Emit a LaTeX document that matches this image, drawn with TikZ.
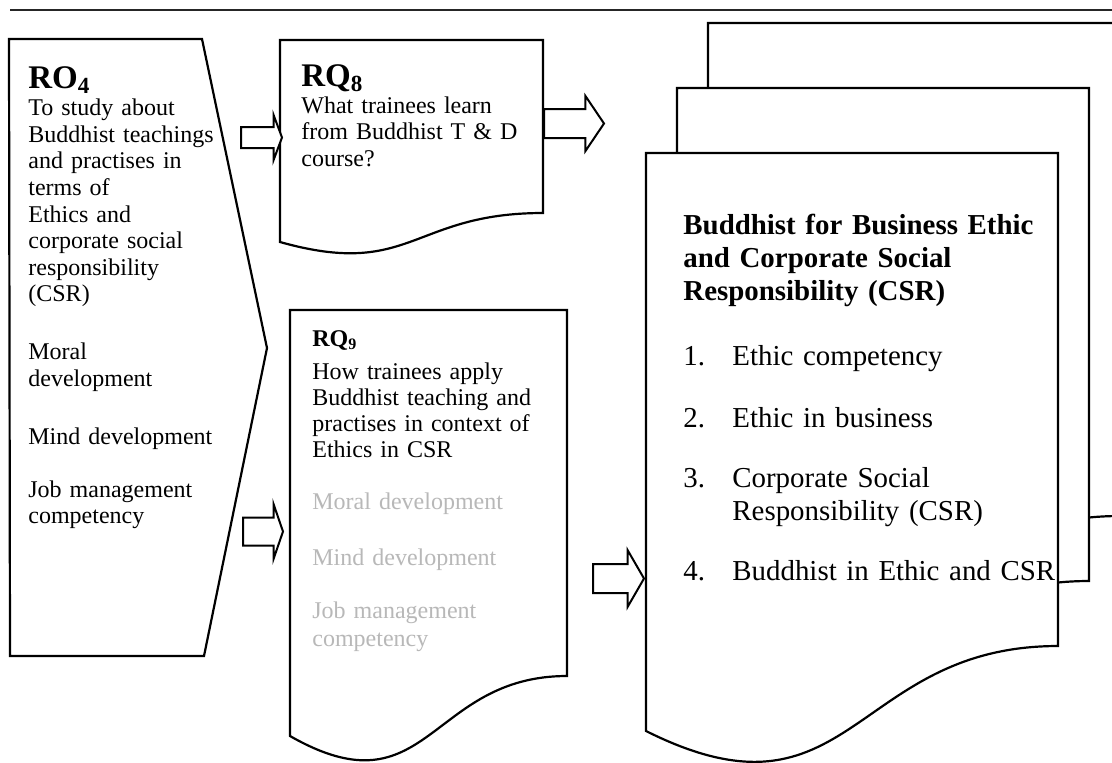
\documentclass[tikz,border=0pt]{standalone}
\usepackage{fontspec}
\setmainfont{Liberation Serif}
\usetikzlibrary{shapes.arrows}

\begin{document}
\begin{tikzpicture}[
    x=0.5pt, y=-0.5pt,
    outline/.style={draw=black, line width=1.1pt, fill=white, line join=miter},
    txt/.style={anchor=base west, inner sep=0pt, align=left, font=\fontsize{12}{13.3}\selectfont},
    bigtxt/.style={anchor=base west, inner sep=0pt, align=left, font=\fontsize{14.45}{16.5}\selectfont},
    blockarrow/.style n args={4}{single arrow, draw=black, line width=1pt, fill=white,
                 inner xsep=0pt, inner ysep=#2, anchor=tail, minimum height=#1,
                 single arrow head extend=#3, single arrow tip angle=#4}
  ]

  \useasboundingbox (0,0) rectangle (1112,762);
  \clip (0,0) rectangle (1112,762);

  \draw[line width=0.8pt, black!85] (10,10) -- (1112,10);

  % objective
  \draw[outline] (9,39) -- (202,39) -- (267,348) -- (204,656) -- (10,656) -- cycle;

  % research questions
  \draw[outline] (280,40) -- (543,40) -- (543,213) .. controls (411.5,213) and (411.5,279) .. (280,242) -- cycle;
  \draw[outline] (290,310) -- (567,310) -- (567,676) .. controls (428.5,676) and (428.5,815) .. (290,736) -- cycle;

  % stacked outcome pages
  \foreach \s in {2,1,0}
    \draw[outline, shift={(\s*31,-\s*65)}] (646,153) -- (1058,153) -- (1058,646)
      .. controls (852,646) and (852,834) .. (646,731) -- cycle;

  \node[txt, text width=115pt] (ro4) at (28,88) {{\fontsize{16.5}{18}\selectfont\bfseries RO\textsubscript{4}}\\[0.5pt]
    To study about\\ Buddhist teachings\\ and practises in\\ terms of\\ Ethics and\\ corporate social\\ responsibility\\ (CSR)\\[15.6pt]
    Moral\\ development\\[15.6pt]
    Mind development\\[13.2pt]
    Job management\\ competency};

  \node[txt, text width=120pt] (rq8) at (301,86) {{\fontsize{16.5}{18}\selectfont\bfseries RQ\textsubscript{8}}\\[0.2pt]
    What trainees learn\\ from Buddhist T \& D\\ course?};

  \node[txt, font=\fontsize{12}{13}\selectfont, text width=125pt] (rq9) at (312,346) {{\bfseries RQ\textsubscript{9}}\\[3.5pt]
    How trainees apply\\ Buddhist teaching and\\ practises in context of\\ Ethics in CSR\\[13pt]
    \color{black!28}Moral development\\[15pt]
    Mind development\\[13.5pt]
    Job management\\[1pt] competency};

  \node[bigtxt, text width=200pt] (csr) at (683,234) {{\bfseries Buddhist for Business Ethic\\ and Corporate Social\\ Responsibility (CSR)}\\[16pt]
    \makebox[24.5pt][l]{1.}Ethic competency\\[14.5pt]
    \makebox[24.5pt][l]{2.}Ethic in business\\[13.5pt]
    \makebox[24.5pt][l]{3.}Corporate Social\\
    \hspace*{24.5pt}Responsibility (CSR)\\[13.5pt]
    \makebox[24.5pt][l]{4.}Buddhist in Ethic and CSR};

  % block arrows between the boxes
  \node[blockarrow={20.5pt}{4.75pt}{6pt}{139}] (ro4torq8) at (240,137.5) {};
  \node[blockarrow={20pt}{6.5pt}{6.75pt}{142}] (ro4torq9) at (242,531.5) {};
  \node[blockarrow={30pt}{6.75pt}{6.5pt}{112}] (rq8tocsr) at (543,123.5) {};
  \node[blockarrow={25.5pt}{6.75pt}{7pt}{120}] (rq9tocsr) at (592,578.5) {};

\end{tikzpicture}
\end{document}
